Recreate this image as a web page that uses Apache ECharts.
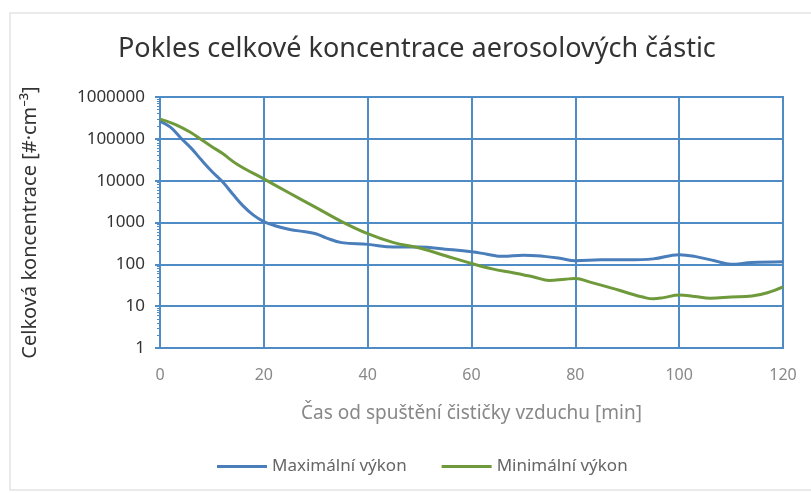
<!DOCTYPE html>
<html><head><meta charset="utf-8">
<script src="https://cdn.jsdelivr.net/npm/echarts@6/dist/echarts.min.js"></script>
<style>html,body{margin:0;padding:0;background:#fff}#c{width:811px;height:493px}</style>
</head><body><div id="c"></div>
<script>
const titleText = 'Pokles celkové koncentrace aerosolových částic';
const xName = 'Čas od spuštění čističky vzduchu [min]';
const yName = 'Celková koncentrace [#·cm⁻³]';
const seriesNames = ['Maximální výkon', 'Minimální výkon'];
const xTicks = [0, 20, 40, 60, 80, 100, 120];
const yTicks = [1, 10, 100, 1000, 10000, 100000, 1000000];

const maxTime = [0, 2, 4, 6, 8, 10, 12, 14, 16, 18, 20, 22, 25, 28, 30, 32, 35, 40, 45, 50, 55, 60, 63, 66, 70, 74, 77, 80, 85, 90, 95, 100, 103, 107, 110, 114, 120];
const maxValues = [260000, 190000, 105000, 60000, 31000, 16600, 9500, 4800, 2500, 1500, 1050, 850, 680, 600, 540, 430, 330, 300, 260, 260, 230, 200, 175, 155, 165, 155, 140, 122, 128, 128, 135, 170, 155, 120, 100, 110, 115];

const minTime = [0, 3, 6, 8, 10, 12, 15, 20, 25, 30, 35, 40, 45, 50, 55, 60, 64, 68, 72, 75, 78, 80, 83, 87, 90, 93, 95, 97, 100, 103, 106, 110, 114, 117, 120];
const minValues = [295000, 220000, 140000, 95000, 65000, 45000, 24000, 11000, 5000, 2300, 1050, 540, 330, 245, 160, 105, 78, 63, 50, 41, 44, 46, 37, 27, 21, 16.5, 15, 16, 18.5, 17, 15.5, 16.5, 17.5, 21, 29];

const pair = (xs, ys) => xs.map((x, i) => [x, ys[i]]);
const gridColor = '#4f8bc4';
const font = 'Noto Sans';

const chart = echarts.init(document.getElementById('c'));
chart.setOption({
  animation: false,
  backgroundColor: '#fff',
  title: { text: titleText, left: 113, top: 31,
    textStyle: { fontFamily: font, fontSize: 27, fontWeight: 'normal', color: '#333' } },
  grid: { left: 160, right: 28, top: 97, bottom: 145 },
  legend: { bottom: 13, left: 212, itemWidth: 50, itemHeight: 3, icon: 'rect', itemGap: 35,
    data: seriesNames, textStyle: { fontFamily: font, fontSize: 17, color: '#666' } },
  xAxis: {
    type: 'value', min: xTicks[0], max: xTicks[xTicks.length - 1], interval: 20,
    name: xName, nameLocation: 'middle', nameGap: 56,
    nameTextStyle: { fontFamily: font, fontSize: 19, color: '#888' },
    axisLine: { lineStyle: { color: gridColor, width: 2 } },
    axisTick: { show: false },
    axisLabel: { margin: 19, fontFamily: font, fontSize: 16, color: '#888' },
    splitLine: { show: true, lineStyle: { color: gridColor, width: 2 } }
  },
  yAxis: {
    type: 'log', logBase: 10, min: yTicks[0], max: yTicks[yTicks.length - 1],
    name: yName, nameLocation: 'middle', nameGap: 120, nameRotate: 90,
    nameTextStyle: { fontFamily: font, fontSize: 20, color: '#333' },
    axisLine: { show: true, lineStyle: { color: gridColor, width: 2 } },
    axisTick: { show: true, length: 5, inside: false, lineStyle: { color: gridColor, width: 2 } },
    minorTick: { show: true, splitNumber: 9, length: 3, lineStyle: { color: gridColor } },
    axisLabel: { margin: 15, fontFamily: font, fontSize: 17, color: '#333',
      formatter: v => String(Math.round(v)) },
    splitLine: { show: true, lineStyle: { color: gridColor, width: 2 } }
  },
  graphic: [
    { type: 'rect', shape: { x: 10, y: 13, width: 830, height: 477 },
      style: { fill: 'none', stroke: '#e3e3e3', lineWidth: 1.5 }, silent: true, z: -1 },
    { type: 'rect', shape: { x: 160, y: 97, width: 623, height: 251 },
      style: { fill: 'none', stroke: gridColor, lineWidth: 2 }, silent: true }
  ],
  series: [
    { name: seriesNames[0], type: 'line', smooth: 0.4, showSymbol: false, data: pair(maxTime, maxValues),
      lineStyle: { color: '#4a7ebb', width: 3 }, itemStyle: { color: '#4a7ebb' } },
    { name: seriesNames[1], type: 'line', smooth: 0.4, showSymbol: false, data: pair(minTime, minValues),
      lineStyle: { color: '#6f9a3c', width: 3 }, itemStyle: { color: '#6f9a3c' } }
  ]
});
</script></body></html>
